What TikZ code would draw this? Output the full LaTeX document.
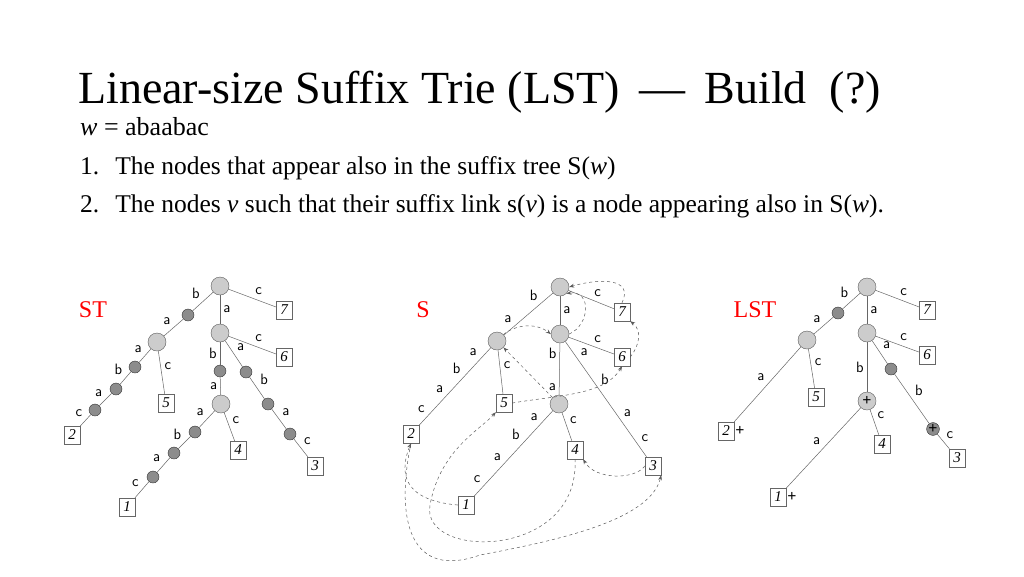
\documentclass[tikz,border=0pt]{standalone}
\usepackage{fontspec}
\setmainfont{Liberation Serif}
\usepackage{tikz}
\usetikzlibrary{positioning, arrows.meta}

\tikzset{
    big/.style={circle,draw=gray!70!black,fill=gray!40,minimum size=18pt,inner sep=0pt,line width=0.4pt},
    small/.style={circle,draw=gray!40!black,fill=gray!90,minimum size=12pt,inner sep=0pt},
    leaf/.style={draw=gray!80!black,fill=white,minimum width=16pt,minimum height=18pt,inner sep=0pt,
        font=\fontsize{15}{15}\selectfont\itshape},
    lab/.style={font=\fontsize{15}{15}\sffamily,inner sep=3pt},
    edge/.style={draw=gray!80!black,line width=0.5pt},
    slink/.style={draw=gray!70!black,dashed,line width=0.5pt,-{Stealth[length=5pt]}},
    plus/.style={font=\fontsize{16}{16}\selectfont\bfseries,inner sep=1pt},
    ttl/.style={red,font=\fontsize{24}{24}\selectfont}
}
\newcommand{\ed}[4][]{\path[edge] (#2) -- node[lab,auto,#1]{#4} (#3);}

\begin{document}
\begin{tikzpicture}[x=1pt,y=-1pt]
    \useasboundingbox (0,0) rectangle (1024,576);

    % header
    \node[anchor=base west,inner sep=0pt,font=\fontsize{46}{46}\selectfont] (title) at (78,103)
        {Linear-size Suffix Trie (LST) \,—\, Build\ \ (?)};
    \node[anchor=base west,inner sep=0pt,font=\fontsize{26}{26}\selectfont] (word) at (80,135)
        {\textit{w} = abaabac};
    \node[anchor=base west,inner sep=0pt,font=\fontsize{25.5}{25.5}\selectfont] (one) at (80,174)
        {1.\hspace{16pt}The nodes that appear also in the suffix tree S(\textit{w})};
    \node[anchor=base west,inner sep=0pt,font=\fontsize{25.5}{25.5}\selectfont] (two) at (80,212)
        {2.\hspace{16pt}The nodes \textit{v} such that their suffix link s(\textit{v}) is a node appearing also in S(\textit{w}).};

    % ST
    \node[ttl] (stt) at (93,310) {ST};
    \node[big] (sr) at (220,286) {};
    \node[small] (sb) at (188,315) {};
    \node[big] (sab) at (157,342) {};
    \node[small] (sd1) at (135,367) {};
    \node[small] (sd2) at (116,389) {};
    \node[small] (sd3) at (95,410) {};
    \node[leaf] (s2) at (72,435) {2};
    \node[leaf] (s5) at (166,403) {5};
    \node[leaf] (s7) at (284,310) {7};
    \node[big] (sa) at (220,333) {};
    \node[leaf] (s6) at (284,357) {6};
    \node[small] (sx) at (220,371) {};
    \node[big] (saba) at (221,404) {};
    \node[small] (se1) at (195,432) {};
    \node[small] (se2) at (174,453) {};
    \node[small] (se3) at (153,477) {};
    \node[leaf] (s1) at (127,507) {1};
    \node[leaf] (s4) at (238,450) {4};
    \node[small] (sf1) at (246,372) {};
    \node[small] (sf2) at (268,404) {};
    \node[small] (sf3) at (290,434) {};
    \node[leaf] (s3) at (315,466) {3};
    \ed[swap]{sr}{sb}{b} \ed[swap]{sb}{sab}{a}
    \ed[swap]{sab}{sd1}{a} \ed[swap]{sd1}{sd2}{b} \ed[swap]{sd2}{sd3}{a} \ed[swap]{sd3}{s2}{c}
    \ed{sab}{s5}{c} \ed{sr}{s7}{c} \ed{sr}{sa}{a} \ed{sa}{s6}{c}
    \ed[swap]{sa}{sx}{b} \ed[swap]{sx}{saba}{a}
    \ed[swap]{saba}{se1}{a} \ed[swap]{se1}{se2}{b} \ed[swap]{se2}{se3}{a} \ed[swap]{se3}{s1}{c}
    \ed{saba}{s4}{c}
    \ed{sa}{sf1}{a} \ed{sf1}{sf2}{b} \ed{sf2}{sf3}{a} \ed{sf3}{s3}{c}

    % S
    \node[ttl] (dt) at (423,310) {S};
    \node[big] (dr) at (560,287) {};
    \node[big] (dab) at (497,341) {};
    \node[big] (da) at (560,334) {};
    \node[big] (daba) at (559,404) {};
    \node[leaf] (d7) at (622,312) {7};
    \node[leaf] (d6) at (622,357) {6};
    \node[leaf] (d5) at (504,403) {5};
    \node[leaf] (d2) at (411,434) {2};
    \node[leaf] (d4) at (575,450) {4};
    \node[leaf] (d3) at (653,466) {3};
    \node[leaf] (d1) at (466,505) {1};
    \path[edge] (dr) -- node[lab,swap,auto,pos=0.25]{b} node[lab,swap,auto,pos=0.78]{a} (dab);
    \path[edge] (dab) -- node[lab,swap,auto,pos=0.15]{a} node[lab,swap,auto,pos=0.38]{b}
        node[lab,swap,auto,pos=0.62]{a} node[lab,swap,auto,pos=0.88]{c} (d2);
    \ed{dab}{d5}{c} \ed{dr}{d7}{c} \ed{dr}{da}{a} \ed{da}{d6}{c}
    \path[edge] (da) -- node[lab,swap,auto,pos=0.2]{b} node[lab,swap,auto,pos=0.85]{a} (daba);
    \path[edge] (daba) -- node[lab,swap,auto,pos=0.15]{a} node[lab,swap,auto,pos=0.38]{b}
        node[lab,swap,auto,pos=0.62]{a} node[lab,swap,auto,pos=0.88]{c} (d1);
    \ed{daba}{d4}{c}
    \path[edge] (da) -- node[lab,auto,pos=0.15]{a} node[lab,auto,pos=0.4]{b}
        node[lab,auto,pos=0.68]{a} node[lab,auto,pos=0.9]{c} (d3);
    % suffix links
    \draw[slink] (d7.north) .. controls (634,278) and (600,278) .. (dr.east);
    \draw[slink] (d6.east) .. controls (640,345) and (642,330) .. (d7.south east);
    \draw[slink] (da.east) .. controls (590,325) and (592,290) .. (dr.south east);
    \draw[slink] (dab.north east) .. controls (515,325) and (535,322) .. (da.west);
    \draw[slink] (daba.north west) -- (dab.south east);
    \draw[slink] (d5.east) .. controls (560,395) and (605,395) .. (d6.south);
    \draw[slink] (d3.west) .. controls (635,480) and (595,480) .. (d4.south east);
    \draw[slink] (d1.west) .. controls (400,500) and (400,470) .. (d2.south);
    \draw[slink] (d4.south) .. controls (580,560) and (420,560) .. (430,505)
        .. controls (440,450) and (480,430) .. (d5.south west);
    \draw[slink] (d2.south) .. controls (395,520) and (410,580) .. (480,555)
        .. controls (560,540) and (650,520) .. (d3.south east);

    % LST
    \node[ttl] (lt) at (755,310) {LST};
    \node[big] (lr) at (867,287) {};
    \node[small] (lb) at (838,313) {};
    \node[big] (lab) at (807,340) {};
    \node[leaf] (l2) at (726,431) {2};
    \node[leaf] (l5) at (816,397) {5};
    \node[leaf] (l7) at (927,310) {7};
    \node[big] (la) at (867,333) {};
    \node[leaf] (l6) at (927,355) {6};
    \node[big] (laba) at (867,401) {\fontsize{16}{16}\selectfont\textbf{+}};
    \node[leaf] (l1) at (778,497) {1};
    \node[leaf] (l4) at (882,444) {4};
    \node[small] (lf1) at (891,369) {};
    \node[small] (lf2) at (933,429) {\fontsize{16}{16}\selectfont\textbf{+}};
    \node[leaf] (l3) at (957,458) {3};
    \node[plus,right=0pt of l2] (p2) {+};
    \node[plus,right=0pt of l1] (p1) {+};
    \ed[swap]{lr}{lb}{b} \ed[swap]{lb}{lab}{a} \ed[swap]{lab}{l2}{a}
    \ed{lab}{l5}{c} \ed{lr}{l7}{c} \ed{lr}{la}{a} \ed{la}{l6}{c}
    \ed[swap]{la}{laba}{b} \ed[swap]{laba}{l1}{a} \ed{laba}{l4}{c}
    \ed{la}{lf1}{a} \ed{lf1}{lf2}{b} \ed{lf2}{l3}{c}
\end{tikzpicture}
\end{document}
